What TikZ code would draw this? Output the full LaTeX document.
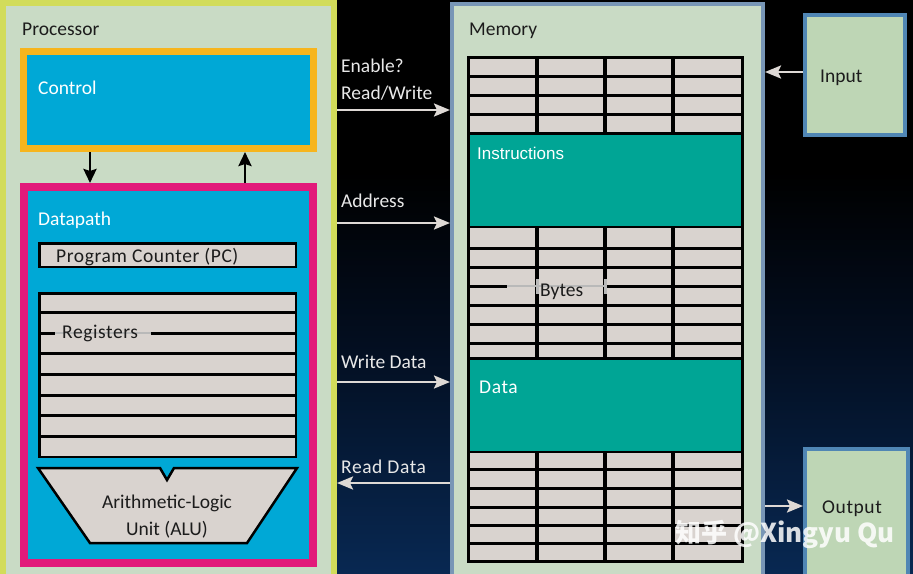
\documentclass[tikz,border=0pt]{standalone}
\usepackage{fontspec}
\setmainfont{Carlito}
\newfontfamily\arialf{Liberation Sans}
\newfontfamily\cjk{Noto Sans CJK SC}
\usetikzlibrary{arrows.meta}
\definecolor{cyanb}{RGB}{0,168,214}
\definecolor{orangeb}{RGB}{247,181,30}
\definecolor{magb}{RGB}{226,26,122}
\definecolor{yelb}{RGB}{210,220,90}
\definecolor{sage}{RGB}{201,219,197}
\definecolor{membd}{RGB}{120,150,182}
\definecolor{iofill}{RGB}{190,214,181}
\definecolor{iobd}{RGB}{80,134,180}
\definecolor{cellg}{RGB}{217,211,207}
\definecolor{tealb}{RGB}{0,165,149}
\definecolor{arrl}{RGB}{222,217,213}
\definecolor{txtl}{RGB}{232,232,232}
\definecolor{txtd}{RGB}{28,28,28}
\definecolor{bgbot}{RGB}{8,40,82}
\definecolor{bgmid}{RGB}{3,14,32}
\definecolor{gapg}{RGB}{185,185,185}
\pgfdeclareverticalshading{bgsh}{100bp}{color(0bp)=(bgbot); color(25bp)=(bgbot); color(45bp)=(bgmid); color(60bp)=(black); color(100bp)=(black)}
\begin{document}
\begin{tikzpicture}[x=1pt,y=-1pt,
  box/.style={draw, inner sep=0, anchor=north west},
  lbl/.style={inner sep=0, anchor=base west, font=\fontsize{19.5}{23}\selectfont},
  lblc/.style={inner sep=0, anchor=base, font=\fontsize{19.5}{23}\selectfont},
  blk/.style={draw=black, line width=2.8pt, -{Stealth[length=14pt,width=13pt,inset=2pt]}},
  lt/.style={draw=arrl, line width=2.4pt, -{Stealth[length=16pt,width=13pt,inset=3pt]}},
  rowl/.style={draw=black, line width=3pt},
  coll/.style={draw=black, line width=3.2pt}]
\useasboundingbox (0,0) rectangle (913,573);
\shade[shading=bgsh] (0,0) rectangle (913,573);
\begin{scope}
\clip (0,0) rectangle (913,573);
% Processor
\node[box, draw=yelb, fill=sage, line width=6pt, minimum width=331pt, minimum height=594pt] (proc) at (0,0) {};
\node[lbl, text=txtd] (proct) at (22,35) {Processor};
% Control
\node[box, draw=orangeb, fill=cyanb, line width=7pt, minimum width=290pt, minimum height=97pt] (ctrl) at (20,48) {};
\node[lbl, text=white] (ctrlt) at (38,94) {Control};
% Datapath
\node[box, draw=magb, fill=cyanb, line width=8pt, minimum width=289pt, minimum height=376pt] (dp) at (20,183) {};
\node[lbl, text=white] (dpt) at (38,225) {Datapath};
% PC
\node[box, fill=cellg, line width=2.5pt, minimum width=256.5pt, minimum height=23.5pt] (pc) at (38,242) {};
\node[lbl, text=txtd] (pct) at (56,262) {\addfontfeature{LetterSpace=3}Program Counter (PC)};
% Registers
\node[box, fill=cellg, line width=2.5pt, minimum width=256.5pt, minimum height=163.5pt] (reg) at (38,292) {};
\foreach \yy in {312,353,374,395,415,436} \draw[rowl] (39,\yy) -- (296,\yy);
\draw[rowl] (39,333) -- (55,333);
\draw[rowl] (151,333) -- (296,333);
\draw[draw=gapg, line width=1.5pt] (55,333) -- (151,333);
\node[lbl, text=txtd] (regt) at (62,338) {\addfontfeature{LetterSpace=3}Registers};
% ALU
\draw[fill=cellg, line width=2.5pt, line join=miter] (38,468) -- (160,468) -- (167,480) -- (174,468) -- (297,468) -- (247,543) -- (90,543) -- cycle;
\node[lblc, text=txtd] (alu1) at (167,508) {Arithmetic-Logic};
\node[lblc, text=txtd] (alu2) at (167,535) {Unit (ALU)};
% arrows control <-> datapath
\coordinate (c1) at (90,0);
\coordinate (c2) at (245,0);
\draw[blk] (ctrl.south -| c1) -- (dp.north -| c1);
\draw[blk] (dp.north -| c2) -- (ctrl.south -| c2);
% Memory
\node[box, draw=membd, fill=sage, line width=4pt, minimum width=311pt, minimum height=594pt] (mem) at (450,2) {};
\node[lbl, text=txtd] (memt) at (469,35) {Memory};
\node[box, fill=cellg, line width=3pt, minimum width=274pt, minimum height=504pt] (grid) at (467,56) {};
\foreach \xx in {537,605,673} \draw[coll] (\xx,57) -- (\xx,562);
\foreach \yy in {76,95,114,248,267,305,324,343,469,488,507,525,543} \draw[rowl] (468,\yy) -- (743,\yy);
\draw[rowl] (468,286) -- (507,286);
\draw[rowl] (607,286) -- (743,286);
\draw[draw=gapg, line width=2.5pt] (507,286) -- (607,286);
\draw[draw=gapg, line width=3pt] (537,279) -- (537,294);
\draw[draw=gapg, line width=3pt] (605,279) -- (605,294);
\node[lbl, text=txtd] (bytet) at (540,296) {Bytes};
\node[box, fill=tealb, line width=2.5pt, minimum width=273.5pt, minimum height=93.5pt] (instr) at (467,132) {};
\node[inner sep=0, anchor=base west, font=\arialf\fontsize{17}{20}\selectfont, text=white] (instrt) at (477,159) {Instructions};
\node[box, fill=tealb, line width=2.5pt, minimum width=273.5pt, minimum height=93.5pt] (data) at (467,357) {};
\node[lbl, text=white] (datat) at (479,393) {\addfontfeature{LetterSpace=3}Data};
% IO
\node[box, draw=iobd, fill=iofill, line width=4pt, minimum width=100pt, minimum height=120pt] (inp) at (803,13) {};
\node[lbl, text=txtd] (inpt) at (820,82) {Input};
\node[box, draw=iobd, fill=iofill, line width=4pt, minimum width=103pt, minimum height=159pt] (outp) at (803,447) {};
\node[lbl, text=txtd] (outpt) at (822,513) {\addfontfeature{LetterSpace=3}Output};
% bus arrows
\coordinate (yEn) at (0,110);
\coordinate (yAd) at (0,223);
\coordinate (yWd) at (0,382);
\coordinate (yRd) at (0,483);
\coordinate (yIn) at (0,72);
\coordinate (yOut) at (0,506);
\draw[lt] (proc.east |- yEn) -- (mem.west |- yEn);
\draw[lt] (proc.east |- yAd) -- (mem.west |- yAd);
\draw[lt] (proc.east |- yWd) -- (mem.west |- yWd);
\draw[lt] (mem.west |- yRd) -- (proc.east |- yRd);
\draw[lt] (inp.west |- yIn) -- (mem.east |- yIn);
\draw[lt] (mem.east |- yOut) -- (outp.west |- yOut);
\node[lbl, text=txtl] (ent) at (341,72) {Enable?};
\node[lbl, text=txtl] (rwt) at (341,99) {Read/Write};
\node[lbl, text=txtl] (adt) at (341,207) {Address};
\node[lbl, text=txtl] (wdt) at (341,368) {Write Data};
\node[lbl, text=txtl] (rdt) at (341,473) {\addfontfeature{LetterSpace=3}Read Data};
% watermark
\node[inner sep=0, anchor=base west, font=\cjk\bfseries\fontsize{26}{29}\selectfont, text=white, opacity=0.85] (wm) at (675,542) {知乎 @Xingyu Qu};
\end{scope}
\end{tikzpicture}
\end{document}
